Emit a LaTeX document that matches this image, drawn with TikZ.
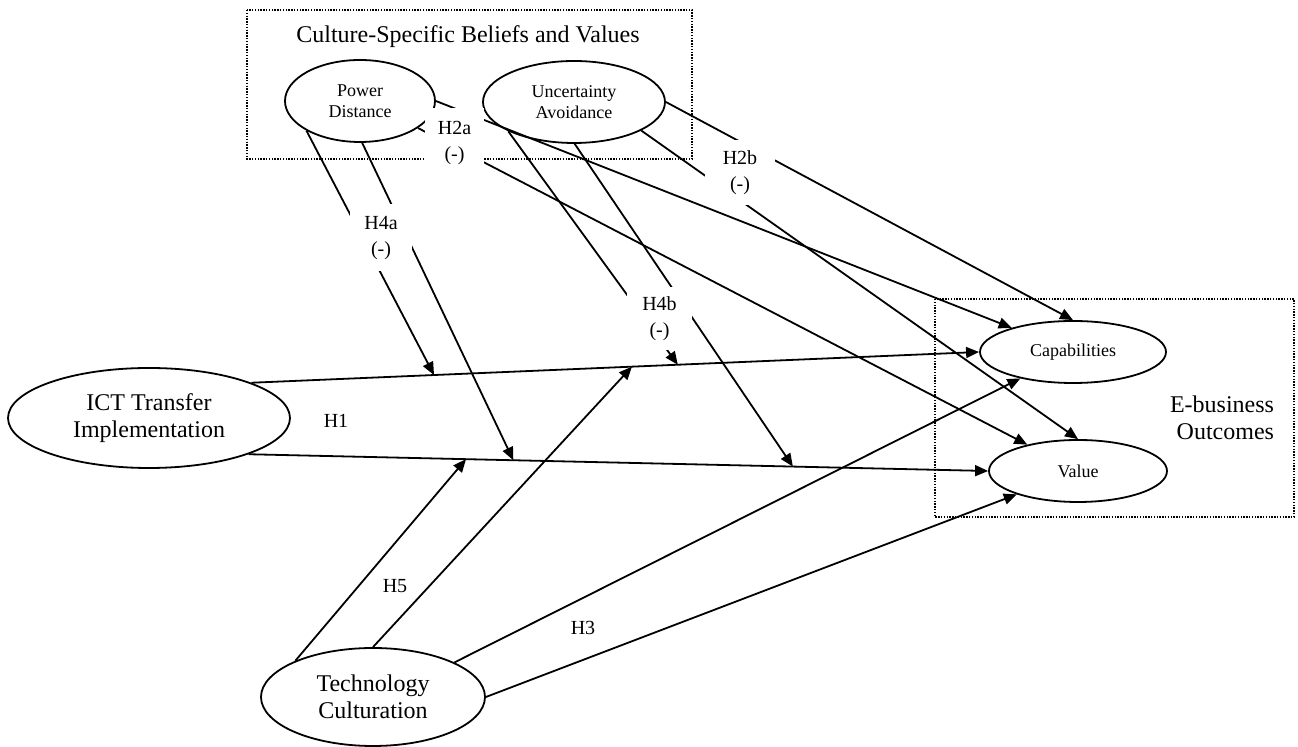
\documentclass[tikz,border=0pt]{standalone}
\usepackage{fontspec}
\setmainfont{Liberation Serif}
\usetikzlibrary{shapes.geometric,arrows.meta}
\begin{document}
\begin{tikzpicture}[x=0.5pt,y=-0.5pt,
  construct/.style={draw,ellipse,line width=0.9pt,inner sep=0pt,align=center},
  bigtext/.style={font=\fontsize{12}{13.5}\selectfont},
  smalltext/.style={font=\fontsize{9}{10.5}\selectfont},
  link/.style={line width=0.9pt,-{Triangle[length=6.5pt,width=5.5pt]}},
  hyp/.style={font=\fontsize{10}{13}\selectfont,align=center,inner sep=0pt},
  gapbox/.style={hyp,fill=white},
  groupbox/.style={draw,line width=0.7pt,dash pattern=on 0.7pt off 0.7pt}
]
\useasboundingbox (0,0) rectangle (1298,747);

% dotted grouping frames
\draw[groupbox] (247,10) rectangle (692,159);
\draw[groupbox] (935,299) rectangle (1294,517);
\node[bigtext] (cultitle) at (468,37) {Culture-Specific Beliefs and Values};
\node[bigtext,align=right] (ebiz) at (1222,418) {E-business\\Outcomes};

% constructs
\node[construct,smalltext,minimum width=75pt,minimum height=41pt] (pd) at (360,101) {Power\\Distance};
\node[construct,smalltext,minimum width=91pt,minimum height=41pt] (ua) at (574,102) {Uncertainty\\Avoidance};
\node[construct,bigtext,minimum width=141pt,minimum height=50pt] (ict) at (149,418) {ICT Transfer\\Implementation};
\node[construct,bigtext,minimum width=112pt,minimum height=49pt] (tc) at (373,697) {Technology\\Culturation};
\node[construct,smalltext,minimum width=93pt,minimum height=31pt] (cap) at (1073,352) {Capabilities};
\node[construct,smalltext,minimum width=89pt,minimum height=31pt] (val) at (1078,471) {Value};

% H1: main effects, with the points where moderators attach
\draw[link] (ict.19) -- coordinate[pos=0.251] (c4a) coordinate[pos=0.523] (c5)
  coordinate[pos=0.586] (c4b) (cap.west);
\draw[link] (ict.-20) -- coordinate[pos=0.294] (v5) coordinate[pos=0.358] (v4a)
  coordinate[pos=0.736] (v4b) (val.west);

% H2a / H2b: direct effects of culture
\draw[link] (pd.east) -- (cap);
\draw[link] (pd.-25) -- (val);
\draw[link] (ua.east) -- (cap.north);
\draw[link] (ua.-23) -- (val.north);

% H3: technology culturation
\draw[link] (tc.23) -- (cap);
\draw[link] (tc.east) -- (val);

% H4a / H4b: moderation by culture
\draw[link] (pd.209) -- (c4a);
\draw[link] (pd.273) -- (v4a);
\draw[link] (ua.204) -- (c4b);
\draw[link] (ua.271) -- (v4b);

% H5: moderation by technology culturation
\draw[link] (tc.155) -- (v5);
\draw[link] (tc.north) -- (c5);

% hypothesis labels
\node[gapbox,minimum width=29.5pt,minimum height=35pt] (h2a) at (454.5,143) {H2a\\(-)};
\node[gapbox,minimum width=35pt,minimum height=32.5pt] (h2b) at (740,172.5) {H2b\\(-)};
\node[gapbox,minimum width=31pt,minimum height=33.5pt] (h4a) at (381,238) {H4a\\(-)};
\node[gapbox,minimum width=32.5pt,minimum height=31.5pt] (h4b) at (659.5,318.5) {H4b\\(-)};
\node[hyp] (h1) at (336,421) {H1};
\node[hyp] (h5) at (395,586) {H5};
\node[hyp] (h3) at (583,628) {H3};
\end{tikzpicture}
\end{document}
